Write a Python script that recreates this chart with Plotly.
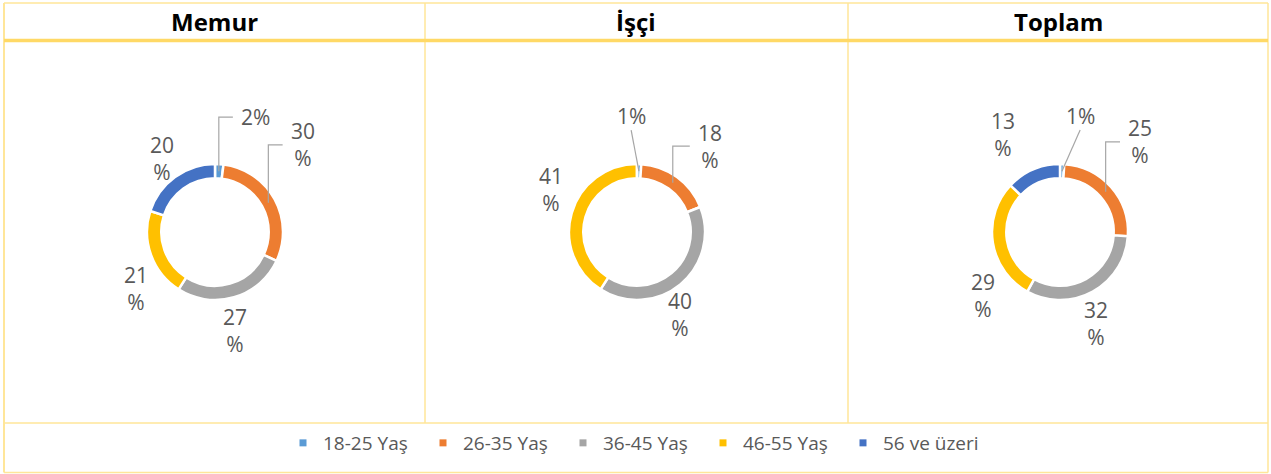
import math
import plotly.graph_objects as go

# ---------------- data ----------------
categories = ["18-25 Yaş", "26-35 Yaş", "36-45 Yaş", "46-55 Yaş", "56 ve üzeri"]
panel_titles = ["Memur", "İşçi", "Toplam"]
memur = [2, 30, 27, 21, 20]
isci = [1, 18, 40, 41, 0]
toplam = [1, 25, 32, 29, 13]
series = [memur, isci, toplam]

# ---------------- style ----------------
colors = ["#5B9BD5", "#ED7D31", "#A5A5A5", "#FFC000", "#4472C4"]
W, H = 1271, 474
BORDER = "#FFE699"
HEADER_LINE = "#FFD966"
LABEL_COLOR = "#595959"
LABEL_FONT = "Open Sans"

# table geometry in pixels
col_edges = [4, 425, 848, 1268]
top_y, header_y, legend_top, bottom_y = 3, 40.5, 423, 472.5
ring_centers = [(215, 232), (637, 232), (1060, 232)]
R_OUT = 68
HOLE = 0.79
R_LABEL = 100
# per-label nudges (px) mimicking Excel's label placement
nudges = [
    [(34, -15), (0, -39), (-8, 2), (15, 23), (6, 7)],
    [(-9, -16), (14, -5), (-21, 5), (10, -15), (0, 0)],
    [(17, -16), (5, -24), (-12, 4), (22, 48), (-17, -6)],
]
leader = [True, True, False, False, False]


def px(x):
    return x / W


def py(y):
    return 1 - y / H


fig = go.Figure()

# donuts
for i, vals in enumerate(series):
    cx, cy = ring_centers[i]
    fig.add_trace(go.Pie(
        labels=categories, values=vals, sort=False, direction="clockwise",
        rotation=0, hole=HOLE, textinfo="none", showlegend=False,
        marker=dict(colors=colors, line=dict(color="white", width=2.5)),
        domain=dict(x=[px(cx - R_OUT), px(cx + R_OUT)],
                    y=[py(cy + R_OUT), py(cy - R_OUT)]),
    ))

# legend entries
for c, col in zip(categories, colors):
    fig.add_trace(go.Scatter(x=[None], y=[None], mode="markers", name=c,
                             marker=dict(symbol="square", size=7, color=col)))

annotations = []
shapes = []

# table lines
def hline(y, x0, x1, color, w):
    shapes.append(dict(type="line", xref="paper", yref="paper",
                       x0=px(x0), x1=px(x1), y0=py(y), y1=py(y),
                       line=dict(color=color, width=w)))


def vline(x, y0, y1, color, w):
    shapes.append(dict(type="line", xref="paper", yref="paper",
                       x0=px(x), x1=px(x), y0=py(y0), y1=py(y1),
                       line=dict(color=color, width=w)))


hline(top_y, col_edges[0], col_edges[-1], BORDER, 1.5)
hline(legend_top, col_edges[0], col_edges[-1], BORDER, 1.5)
hline(bottom_y, col_edges[0], col_edges[-1], BORDER, 1.5)
vline(col_edges[0], top_y, bottom_y, BORDER, 2)
vline(col_edges[-1], top_y, bottom_y, BORDER, 1.5)
for x in col_edges[1:-1]:
    vline(x, top_y, legend_top, BORDER, 1.5)
hline(header_y, col_edges[0], col_edges[-1], HEADER_LINE, 3.5)

# headers
for i, t in enumerate(panel_titles):
    xc = (col_edges[i] + col_edges[i + 1]) / 2
    annotations.append(dict(x=px(xc), y=py(22), xref="paper", yref="paper",
                            text=f"<b>{t}</b>", showarrow=False,
                            xanchor="center", yanchor="middle",
                            font=dict(family="Open Sans", size=24, color="black")))

# data labels
for i, vals in enumerate(series):
    cx, cy = ring_centers[i]
    total = sum(vals)
    cum = 0
    r_mid = R_OUT * (1 + HOLE) / 2
    for j, v in enumerate(vals):
        mid = (cum + v / 2) / total * 2 * math.pi
        cum += v
        if v == 0:
            continue
        dx, dy = nudges[i][j]
        lx = cx + R_LABEL * math.sin(mid) + dx
        ly = cy - R_LABEL * math.cos(mid) + dy
        text = f"{v}%" if v < 10 else f"{v}<br>%"
        annotations.append(dict(x=px(lx), y=py(ly), xref="paper", yref="paper",
                                text=text, showarrow=False,
                                xanchor="center", yanchor="middle",
                                font=dict(family=LABEL_FONT, size=21, color=LABEL_COLOR)))
        if leader[j]:
            first = text.split("<br>")[0]
            half_w = 6 * sum(1.4 if ch == "%" else 1 for ch in first)
            left = lx - half_w
            sx = cx + r_mid * math.sin(mid)
            sy = cy - r_mid * math.cos(mid)
            if left > sx + 10:
                path = (f"M {px(sx)} {py(sy)} L {px(sx)} {py(ly)} "
                        f"L {px(left - 8)} {py(ly)}")
            else:
                path = f"M {px(sx)} {py(sy)} L {px(lx)} {py(ly + 14)}"
            shapes.append(dict(type="path", xref="paper", yref="paper", path=path,
                               line=dict(color="#A6A6A6", width=1.2)))

fig.update_layout(
    width=W, height=H, margin=dict(l=0, r=0, t=0, b=0),
    paper_bgcolor="white", plot_bgcolor="white",
    xaxis=dict(visible=False, range=[0, 1]), yaxis=dict(visible=False, range=[0, 1]),
    showlegend=True,
    legend=dict(orientation="h", x=px(633), xanchor="center", y=py(443), yanchor="middle",
                font=dict(family=LABEL_FONT, size=19, color=LABEL_COLOR),
                itemwidth=30, entrywidth=95, entrywidthmode="pixels",
                bgcolor="rgba(0,0,0,0)"),
    annotations=annotations, shapes=shapes,
)

fig.write_html("out.html", config={"displayModeBar": False},
               post_script="document.body.style.margin='0px';document.body.style.overflow='hidden';")
